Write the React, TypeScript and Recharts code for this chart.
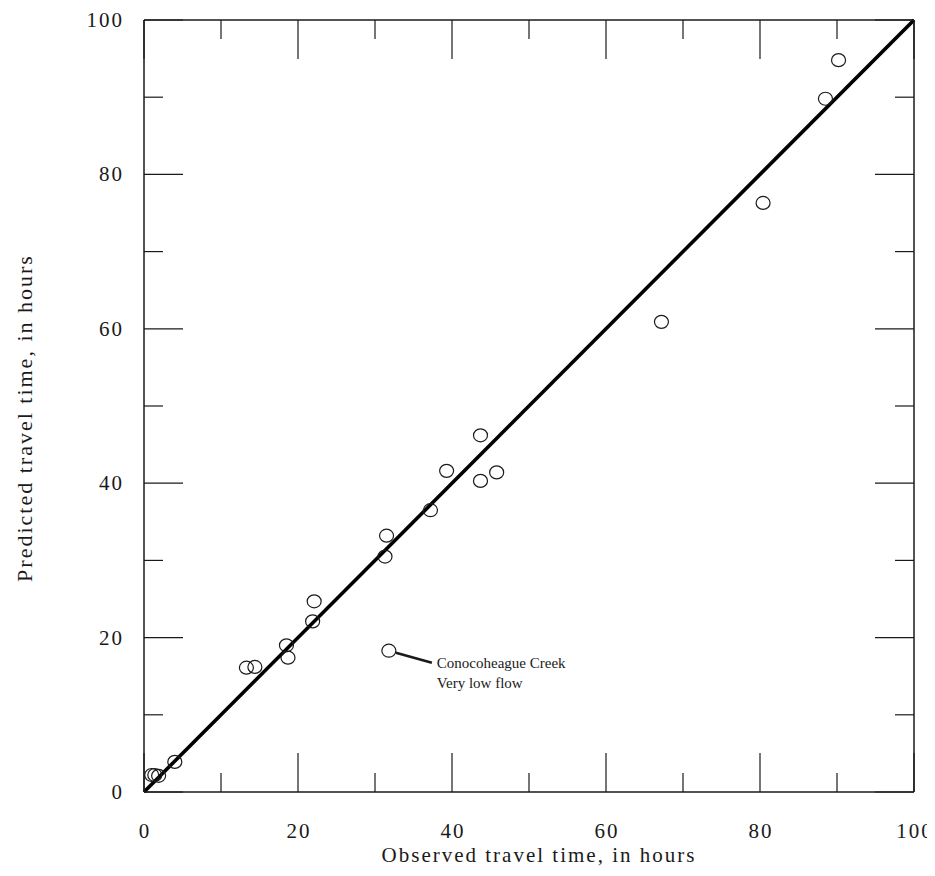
import {
  ReferenceLine,
  Scatter,
  ScatterChart,
  XAxis,
  YAxis,
} from "recharts";

// observed vs predicted travel time, hours
const OBSERVED = [
  1.0, 1.4, 1.9, 4.0, 13.3, 14.4, 18.5, 18.7, 21.9, 22.1, 31.3, 31.5, 31.8,
  37.2, 39.3, 43.7, 43.7, 45.8, 67.2, 80.4, 88.5, 90.2,
];
const PREDICTED = [
  2.2, 2.2, 2.1, 3.9, 16.1, 16.2, 19.0, 17.4, 22.1, 24.7, 30.5, 33.2, 18.3,
  36.5, 41.6, 40.3, 46.2, 41.4, 60.9, 76.3, 89.8, 94.8,
];
const NOTE_INDEX = 12;
const NOTE_LINES = ["Conocoheague Creek", "Very low flow"];

const TICKS = [0, 10, 20, 30, 40, 50, 60, 70, 80, 90, 100];
const LABEL_STEP = 20;
const ONE_TO_ONE = [0, 100];

const X_TITLE = "Observed travel time, in hours";
const Y_TITLE = "Predicted travel time, in hours";

const points = OBSERVED.map((x, i) => ({
  x,
  y: PREDICTED[i],
  note: i === NOTE_INDEX,
}));

const INK = "#1a1a1a";
const FONT = "'Liberation Serif', 'Times New Roman', serif";
const MAJOR = 39;
const MINOR = 19;

const tickLen = (v: number) => (v % LABEL_STEP === 0 ? MAJOR : MINOR);

const BottomTick = ({ x, y, payload }: any) => {
  const v = payload.value;
  return (
    <g>
      <line x1={x} y1={y} x2={x} y2={y - tickLen(v)} stroke={INK} strokeWidth={1.2} />
      {v % LABEL_STEP === 0 && (
        <text
          x={x + 1}
          y={y + 46}
          textAnchor="middle"
          fontFamily={FONT}
          fontSize={21}
          letterSpacing={2}
          fill={INK}
        >
          {v}
        </text>
      )}
    </g>
  );
};

const TopTick = ({ x, y, payload }: any) => (
  <line x1={x} y1={y} x2={x} y2={y + tickLen(payload.value)} stroke={INK} strokeWidth={1.2} />
);

const LeftTick = ({ x, y, payload }: any) => {
  const v = payload.value;
  return (
    <g>
      <line x1={x} y1={y} x2={x + tickLen(v)} y2={y} stroke={INK} strokeWidth={1.2} />
      {v % LABEL_STEP === 0 && (
        <text
          x={x - 20}
          y={y + 7}
          textAnchor="end"
          fontFamily={FONT}
          fontSize={21}
          letterSpacing={2}
          fill={INK}
        >
          {v}
        </text>
      )}
    </g>
  );
};

const RightTick = ({ x, y, payload }: any) => (
  <line x1={x} y1={y} x2={x - tickLen(payload.value)} y2={y} stroke={INK} strokeWidth={1.2} />
);

const Circle = ({ cx, cy, payload }: any) => (
  <g>
    <ellipse cx={cx} cy={cy} rx={7} ry={6.5} fill="none" stroke={INK} strokeWidth={1.2} />
    {payload?.note && (
      <g>
        <line x1={cx + 7} y1={cy + 2} x2={cx + 43} y2={cy + 12} stroke={INK} strokeWidth={2.5} />
        {NOTE_LINES.map((t, i) => (
          <text
            key={t}
            x={cx + 48}
            y={cy + 17 + i * 20}
            fontFamily={FONT}
            fontSize={15}
            fill={INK}
          >
            {t}
          </text>
        ))}
      </g>
    )}
  </g>
);

const NoShape = () => <g />;

const XTitle = ({ viewBox }: any) => (
  <text
    x={viewBox.x + viewBox.width / 2 + 10}
    y={viewBox.y + 70}
    textAnchor="middle"
    fontFamily={FONT}
    fontSize={21}
    letterSpacing={2}
    fill={INK}
  >
    {X_TITLE}
  </text>
);

const YTitle = ({ viewBox }: any) => {
  const cx = 16;
  const cy = viewBox.y + viewBox.height / 2 + 12;
  return (
    <text
      x={cx}
      y={cy}
      transform={`rotate(-90, ${cx}, ${cy})`}
      textAnchor="middle"
      dominantBaseline="central"
      fontFamily={FONT}
      fontSize={22}
      letterSpacing={2}
      fill={INK}
    >
      {Y_TITLE}
    </text>
  );
};

const axisLine = { stroke: INK, strokeWidth: 1.5 };

export default function App() {
  return (
    <ScatterChart
      width={927}
      height={860}
      margin={{ top: 10, right: 19, bottom: 0, left: 0 }}
      style={{ background: "#fff" }}
    >
      <XAxis
        type="number"
        dataKey="x"
        domain={[0, 100]}
        ticks={TICKS}
        interval={0}
        height={76}
        tickSize={0}
        tickMargin={0}
        tickLine={false}
        axisLine={axisLine}
        tick={<BottomTick />}
        label={<XTitle />}
      />
      <XAxis
        xAxisId="top"
        orientation="top"
        type="number"
        dataKey="x"
        domain={[0, 100]}
        ticks={TICKS}
        interval={0}
        height={2}
        tickSize={0}
        tickMargin={0}
        tickLine={false}
        axisLine={axisLine}
        tick={<TopTick />}
      />
      <YAxis
        type="number"
        dataKey="y"
        domain={[0, 100]}
        ticks={TICKS}
        interval={0}
        width={136}
        tickSize={0}
        tickMargin={0}
        tickLine={false}
        axisLine={axisLine}
        tick={<LeftTick />}
        label={<YTitle />}
      />
      <YAxis
        yAxisId="right"
        orientation="right"
        type="number"
        dataKey="y"
        domain={[0, 100]}
        ticks={TICKS}
        interval={0}
        width={2}
        tickSize={0}
        tickMargin={0}
        tickLine={false}
        axisLine={axisLine}
        tick={<RightTick />}
      />
      <ReferenceLine
        segment={[
          { x: ONE_TO_ONE[0], y: ONE_TO_ONE[0] },
          { x: ONE_TO_ONE[1], y: ONE_TO_ONE[1] },
        ]}
        stroke="#000"
        strokeWidth={3.6}
      />
      {/* invisible copy so the frame axes on top/right get their ticks */}
      <Scatter
        data={points}
        xAxisId="top"
        yAxisId="right"
        shape={<NoShape />}
        isAnimationActive={false}
      />
      <Scatter data={points} shape={<Circle />} isAnimationActive={false} />
    </ScatterChart>
  );
}
